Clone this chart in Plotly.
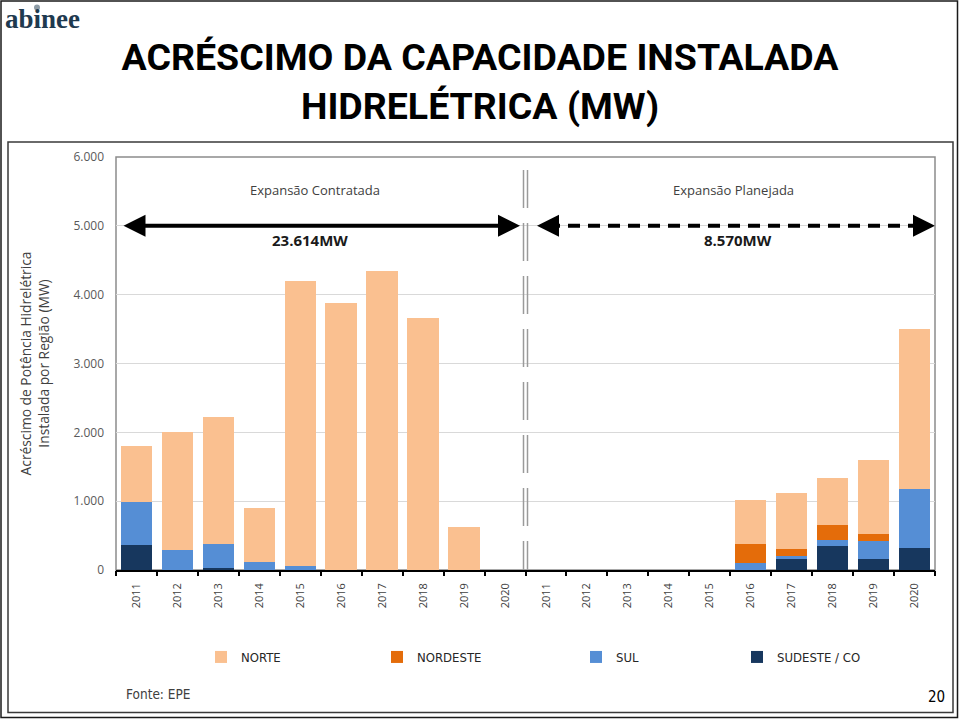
import plotly.graph_objects as go

# ---------------- data ----------------
anos = ["2011", "2012", "2013", "2014", "2015", "2016", "2017", "2018", "2019", "2020"]
fases = ["Expansão Contratada", "Expansão Planejada"]
totais_fase = ["23.614MW", "8.570MW"]

norte_contratada = [810, 1710, 1850, 785, 4140, 3880, 4340, 3660, 620, 0]
nordeste_contratada = [0, 0, 0, 0, 0, 0, 0, 0, 0, 0]
sul_contratada = [630, 290, 350, 110, 60, 0, 0, 0, 0, 0]
sudeste_contratada = [360, 0, 30, 0, 0, 0, 0, 0, 0, 0]

norte_planejada = [0, 0, 0, 0, 0, 625, 820, 690, 1075, 2325]
nordeste_planejada = [0, 0, 0, 0, 0, 290, 100, 210, 110, 0]
sul_planejada = [0, 0, 0, 0, 0, 95, 50, 90, 265, 850]
sudeste_planejada = [0, 0, 0, 0, 0, 0, 155, 350, 155, 320]

regioes = ["NORTE", "NORDESTE", "SUL", "SUDESTE / CO"]
cores = {"NORTE": "#FAC090", "NORDESTE": "#E46C0A", "SUL": "#558ED5", "SUDESTE / CO": "#17375E"}

valores = {
    "SUDESTE / CO": sudeste_contratada + sudeste_planejada,
    "SUL": sul_contratada + sul_planejada,
    "NORDESTE": nordeste_contratada + nordeste_planejada,
    "NORTE": norte_contratada + norte_planejada,
}
rotulos = anos + anos
posicoes = list(range(len(rotulos)))
n = len(rotulos)

# ---------------- geometry helpers ----------------
W, H = 960, 719
L, R, T, B = 116, 25, 157, 149
PW, PH = W - L - R, H - T - B


def px(x):
    return (x - L) / PW


def py(y):
    return (H - B - y) / PH


def cx(x):  # pixel -> category coordinate
    return (x - L) / PW * n - 0.5


FONT = "Open Sans, Noto Sans, sans-serif"
NARROW = "Liberation Sans Narrow, Arial Narrow, DejaVu Sans Condensed, sans-serif"

fig = go.Figure()

legend_pos = {"NORTE": 231, "NORDESTE": 407, "SUL": 606, "SUDESTE / CO": 767}
legend_ids = {"NORTE": "legend", "NORDESTE": "legend2", "SUL": "legend3", "SUDESTE / CO": "legend4"}

for reg in ["SUDESTE / CO", "SUL", "NORDESTE", "NORTE"]:
    fig.add_trace(go.Bar(
        x=posicoes, y=valores[reg], name=reg,
        marker=dict(color=cores[reg], line=dict(width=0)),
        legend=legend_ids[reg],
        hovertemplate="%{y}<extra>" + reg + "</extra>",
    ))

# helper trace for boundary tick marks
fig.add_trace(go.Scatter(x=[None], y=[None], xaxis="x2", showlegend=False, hoverinfo="skip"))

layout_legends = {}
for reg in regioes:
    layout_legends[legend_ids[reg]] = dict(
        x=px(legend_pos[reg] - 30), xanchor="left",
        y=py(657), yanchor="middle",
        orientation="h", bgcolor="rgba(0,0,0,0)",
        font=dict(family=NARROW, size=13, color="#262626"),
        itemclick=False, itemdoubleclick=False,
    )

fig.update_layout(
    width=W, height=H,
    margin=dict(l=L, r=R, t=T, b=B, autoexpand=False),
    paper_bgcolor="white", plot_bgcolor="white",
    barmode="stack", bargap=0.23,
    title=dict(
        text="ACRÉSCIMO DA CAPACIDADE INSTALADA<br>HIDRELÉTRICA (MW)",
        x=0.5, xanchor="center", xref="container",
        y=1 - 70 / H, yanchor="middle", yref="container",
        font=dict(family="Liberation Sans Narrow, Arial Narrow, Roboto, sans-serif", size=37.5, color="black", weight="bold"),
    ),
    xaxis=dict(
        range=[-0.5, n - 0.5], tickvals=posicoes, ticktext=rotulos,
        tickangle=-90, ticks="", showgrid=False, zeroline=False,
        showline=True, linecolor="black", linewidth=1.5,
        tickfont=dict(family=FONT, size=11, color="#404040"),
        ticklabelstandoff=7, fixedrange=True,
    ),
    xaxis2=dict(
        range=[-0.5, n - 0.5], overlaying="x", anchor="y", side="bottom",
        tickvals=[i - 0.5 for i in range(n + 1)], ticks="outside", ticklen=5,
        tickwidth=1.5, tickcolor="black", showticklabels=False,
        showgrid=False, zeroline=False, showline=False, fixedrange=True,
    ),
    yaxis=dict(
        range=[0, 6000], tickvals=[0, 1000, 2000, 3000, 4000, 5000, 6000],
        ticktext=["0", "1.000", "2.000", "3.000", "4.000", "5.000", "6.000"],
        showgrid=True, gridcolor="#D9D9D9", gridwidth=1, zeroline=False,
        showline=False, ticks="",
        tickfont=dict(family=FONT, size=12, color="#595959"),
        ticklabelstandoff=11, fixedrange=True,
        title=dict(
            text="Acréscimo de Potência Hidrelétrica<br>Instalada por Região (MW)",
            font=dict(family=FONT, size=13.8, color="#404040"), standoff=20,
        ),
    ),
    **layout_legends,
)

shapes = [
    # outer slide border
    dict(type="rect", xref="paper", yref="paper", x0=px(1), x1=px(957.5), y0=py(717.5), y1=py(1),
         line=dict(color="#1a1a1a", width=1.5), layer="below"),
    # inner chart box
    dict(type="rect", xref="paper", yref="paper", x0=px(8), x1=px(953), y0=py(712.5), y1=py(142),
         line=dict(color="#3a3a3a", width=1.5), layer="below"),
    # plot area border
    dict(type="rect", xref="paper", yref="paper", x0=0, x1=1, y0=0, y1=1,
         line=dict(color="#8C8C8C", width=1.5), layer="below"),
    # separator between phases (double dashed line)
    dict(type="line", xref="x", xsizemode="pixel", xanchor=9.5, x0=-2, x1=-2,
         yref="y", y0=5810, y1=0, line=dict(color="#9A9A9A", width=1.5, dash="38px,15px")),
    dict(type="line", xref="x", xsizemode="pixel", xanchor=9.5, x0=2, x1=2,
         yref="y", y0=5810, y1=0, line=dict(color="#9A9A9A", width=1.5, dash="38px,15px")),
    # dashed arrow shaft (planned expansion)
    dict(type="line", xref="x", yref="y", x0=cx(548), x1=cx(922), y0=5000, y1=5000,
         line=dict(color="black", width=4, dash="12px,8px")),
    # logo dot
    dict(type="circle", xref="paper", yref="paper", x0=px(34), x1=px(40), y0=py(10.5), y1=py(4.5),
         fillcolor="#8E9CA6", line=dict(width=0)),
]
fig.update_layout(shapes=shapes)

ann = []
# solid double arrow (contracted expansion)
ann.append(dict(x=cx(520), y=5000, ax=cx(122), ay=5000, xref="x", yref="y", axref="x", ayref="y",
                text="", showarrow=True, arrowside="end+start", arrowhead=2, startarrowhead=2,
                arrowwidth=4, arrowsize=1.1, startarrowsize=1.1, arrowcolor="black", standoff=0, startstandoff=0))
# dashed arrow heads
ann.append(dict(x=cx(537), y=5000, ax=cx(558), ay=5000, xref="x", yref="y", axref="x", ayref="y",
                text="", showarrow=True, arrowhead=2, arrowwidth=4, arrowsize=1.1, arrowcolor="black"))
ann.append(dict(x=cx(935), y=5000, ax=cx(914), ay=5000, xref="x", yref="y", axref="x", ayref="y",
                text="", showarrow=True, arrowhead=2, arrowwidth=4, arrowsize=1.1, arrowcolor="black"))

for txt, xc in zip(fases, [cx(315), cx(733)]):
    ann.append(dict(x=xc, y=5520, xref="x", yref="y", text=txt, showarrow=False,
                    font=dict(family=FONT, size=13, color="#404040")))
for txt, xc in zip(totais_fase, [cx(310), cx(738)]):
    ann.append(dict(x=xc, y=4800, xref="x", yref="y", text="<b>" + txt + "</b>", showarrow=False,
                    font=dict(family=FONT, size=15, color="#1a1a1a")))

# logo
ann.append(dict(x=px(3), y=py(19), xref="paper", yref="paper", xanchor="left", yanchor="middle",
                text="<b>abinee</b>", showarrow=False,
                font=dict(family="Liberation Serif, DejaVu Serif, serif", size=27, color="#1F3A4F")))
# source and page number
ann.append(dict(x=px(124), y=py(694), xref="paper", yref="paper", xanchor="left", yanchor="middle",
                text="Fonte: EPE", showarrow=False, font=dict(family=NARROW, size=13.5, color="#404040")))
ann.append(dict(x=px(947), y=py(697), xref="paper", yref="paper", xanchor="right", yanchor="middle",
                text="20", showarrow=False, font=dict(family=NARROW, size=15, color="black")))

fig.update_layout(annotations=ann)

fig.write_html("out.html", post_script="document.body.style.margin='0';",
               config={"displayModeBar": False})
